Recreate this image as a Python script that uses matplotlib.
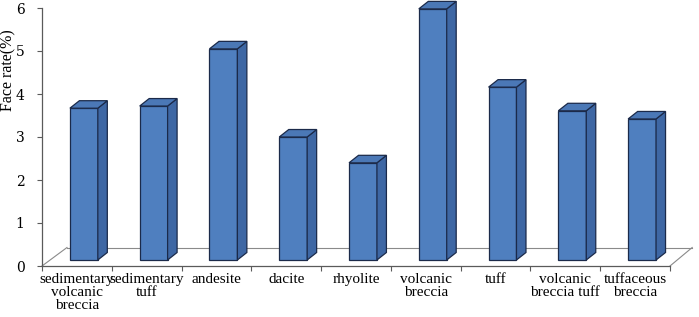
import matplotlib
matplotlib.use("Agg")
import matplotlib.pyplot as plt
from matplotlib.patches import Polygon

categories = ["sedimentary\nvolcanic\nbreccia", "sedimentary\ntuff", "andesite", "dacite",
              "rhyolite", "volcanic\nbreccia", "tuff", "volcanic\nbreccia tuff", "tuffaceous\nbreccia"]
values = [3.53, 3.58, 4.91, 2.86, 2.26, 5.84, 4.02, 3.47, 3.28]
yticks = [0, 1, 2, 3, 4, 5, 6]

FONT = "DejaVu Serif"
LFONT = "Liberation Serif"
front_c = "#4f7fbf"
top_c = "#4b78b6"
side_c = "#3e67a4"
edge_c = "#1b2a4a"

fig = plt.figure(figsize=(6.99, 3.17), dpi=100)
ax = fig.add_axes([42/699, 1 - 266/317, 628/699, 258/317])
n = len(categories)
ax.set_xlim(0, n)
ax.set_ylim(0, 6)

# floor geometry (data units)
fdx, fdy = 0.358, 0.43
floor_c = "#8a8a8a"
ax.plot([0, fdx], [0, fdy], color=floor_c, lw=0.8, clip_on=False, zorder=1)
ax.plot([fdx, n + fdx - 0.04], [fdy, fdy], color=floor_c, lw=0.8, clip_on=False, zorder=1)
ax.plot([n, n + fdx - 0.04], [0, fdy], color=floor_c, lw=0.8, clip_on=False, zorder=1)

# bars
base = 0.14
w = 0.40
sdx, sdy = 0.136, 0.174
for i, v in enumerate(values):
    x0 = i + 0.40
    x1 = x0 + w
    y0 = base
    y1 = base + v
    front = Polygon([(x0, y0), (x1, y0), (x1, y1), (x0, y1)], closed=True,
                    facecolor=front_c, edgecolor=edge_c, lw=0.9, clip_on=False, zorder=3)
    side = Polygon([(x1, y0), (x1 + sdx, y0 + sdy), (x1 + sdx, y1 + sdy), (x1, y1)], closed=True,
                   facecolor=side_c, edgecolor=edge_c, lw=0.9, clip_on=False, zorder=3)
    top = Polygon([(x0, y1), (x1, y1), (x1 + sdx, y1 + sdy), (x0 + sdx, y1 + sdy)], closed=True,
                  facecolor=top_c, edgecolor=edge_c, lw=0.9, clip_on=False, zorder=3)
    for p in (front, side, top):
        ax.add_patch(p)

# axes styling
for s in ("top", "right"):
    ax.spines[s].set_visible(False)
ax.spines["left"].set_color("#5a5a5a")
ax.spines["bottom"].set_color("#5a5a5a")
ax.spines["left"].set_linewidth(0.9)
ax.spines["bottom"].set_linewidth(0.9)

ax.set_yticks(yticks)
ax.set_yticklabels([str(t) for t in yticks], fontfamily=FONT, fontsize=10)
ax.tick_params(axis="y", direction="out", length=3.5, width=0.8, color="#5a5a5a", pad=9)

ax.set_xticks(range(n + 1))
ax.set_xticklabels([""] * (n + 1))
ax.tick_params(axis="x", direction="out", length=3.5, width=0.8, color="#5a5a5a")
for i, c in enumerate(categories):
    ax.text(i + 0.5, -0.17, c, ha="center", va="top", fontfamily=LFONT, fontsize=11,
            linespacing=1.0, transform=ax.transData, clip_on=False)

fig.text(8/699, 1 - 70/317, "Face rate(%)", rotation=90, ha="center", va="center",
         fontfamily=LFONT, fontsize=11.5)

fig.savefig("out.png", dpi=100)
